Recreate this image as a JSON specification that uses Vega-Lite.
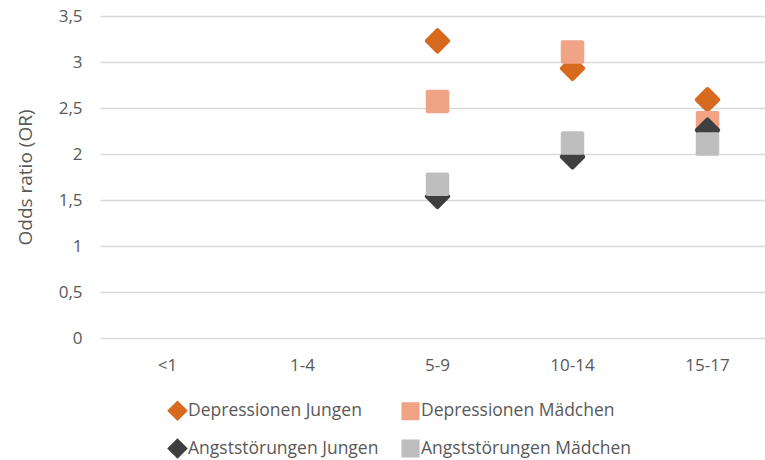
{
  "$schema": "https://vega.github.io/schema/vega-lite/v6.json",
  "autosize": "none",
  "padding": {"left": 100, "top": 16, "right": 0, "bottom": 122},
  "width": 675,
  "height": 322,
  "background": "white",
  "config": {
    "view": {"stroke": null},
    "font": "Open Sans"
  },
  "data": {
    "values": [
      {"age": "5-9", "series": "Depressionen Jungen", "or": 3.23},
      {"age": "10-14", "series": "Depressionen Jungen", "or": 2.93},
      {"age": "15-17", "series": "Depressionen Jungen", "or": 2.59},
      {"age": "5-9", "series": "Depressionen Mädchen", "or": 2.57},
      {"age": "10-14", "series": "Depressionen Mädchen", "or": 3.11},
      {"age": "15-17", "series": "Depressionen Mädchen", "or": 2.34},
      {"age": "5-9", "series": "Angststörungen Jungen", "or": 1.54},
      {"age": "10-14", "series": "Angststörungen Jungen", "or": 1.97},
      {"age": "15-17", "series": "Angststörungen Jungen", "or": 2.26},
      {"age": "5-9", "series": "Angststörungen Mädchen", "or": 1.67},
      {"age": "10-14", "series": "Angststörungen Mädchen", "or": 2.12},
      {"age": "15-17", "series": "Angststörungen Mädchen", "or": 2.11}
    ]
  },
  "mark": {"type": "point", "filled": true, "opacity": 1, "strokeWidth": 4, "strokeJoin": "round", "size": 380},
  "encoding": {
    "x": {
      "field": "age",
      "type": "nominal",
      "scale": {"type": "band", "domain": ["<1", "1-4", "5-9", "10-14", "15-17"], "paddingInner": 0, "paddingOuter": 0},
      "axis": {
        "title": null,
        "labelAngle": 0,
        "domain": false,
        "ticks": false,
        "grid": false,
        "labelPadding": 19,
        "labelFontSize": 17,
        "labelColor": "#595959"
      }
    },
    "y": {
      "field": "or",
      "type": "quantitative",
      "scale": {"domain": [0, 3.5], "nice": false, "zero": true},
      "axis": {
        "values": [0, 0.5, 1, 1.5, 2, 2.5, 3, 3.5],
        "labelExpr": "replace(format(datum.value, '.1~f'), '.', ',')",
        "title": "Odds ratio (OR)",
        "titleFontSize": 19,
        "titleFontWeight": "normal",
        "titleColor": "#595959",
        "titleX": -75,
        "titleY": 161,
        "titleAngle": -90,
        "titleAlign": "center",
        "titleBaseline": "middle",
        "domain": false,
        "ticks": false,
        "grid": true,
        "gridColor": "#D9D9D9",
        "gridWidth": 1.5,
        "labelPadding": 18,
        "labelFontSize": 17,
        "labelColor": "#595959"
      }
    },
    "color": {
      "field": "series",
      "type": "nominal",
      "scale": {
        "domain": ["Depressionen Jungen", "Depressionen Mädchen", "Angststörungen Jungen", "Angststörungen Mädchen"],
        "range": ["#D76A1F", "#F0A385", "#3F3F3F", "#BEBEBE"]
      },
      "legend": {
        "title": null,
        "orient": "none",
        "direction": "horizontal",
        "legendX": 68,
        "legendY": 385,
        "columns": 2,
        "columnPadding": 19,
        "rowPadding": 11,
        "symbolSize": 260,
        "symbolStrokeWidth": 2,
        "labelFontSize": 17.5,
        "labelColor": "#595959",
        "labelOffset": 1,
        "labelLimit": 400
      }
    },
    "stroke": {
      "field": "series",
      "type": "nominal",
      "scale": {
        "domain": ["Depressionen Jungen", "Depressionen Mädchen", "Angststörungen Jungen", "Angststörungen Mädchen"],
        "range": ["#D76A1F", "#F0A385", "#3F3F3F", "#BEBEBE"]
      },
      "legend": null
    },
    "shape": {
      "field": "series",
      "type": "nominal",
      "scale": {
        "domain": ["Depressionen Jungen", "Depressionen Mädchen", "Angststörungen Jungen", "Angststörungen Mädchen"],
        "range": ["M-1.1,0L0,-1.1L1.1,0L0,1.1Z", "square", "M-1.1,0L0,-1.1L1.1,0L0,1.1Z", "square"]
      }
    }
  }
}
